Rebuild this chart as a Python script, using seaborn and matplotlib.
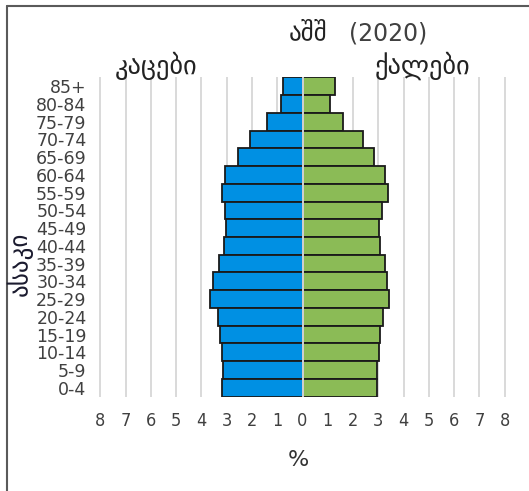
import numpy as np
import pandas as pd
import matplotlib
matplotlib.use("Agg")
import matplotlib.pyplot as plt
from matplotlib.lines import Line2D
import seaborn as sns

# ---- data (percent of total population) ----
ages = ["0-4", "5-9", "10-14", "15-19", "20-24", "25-29", "30-34", "35-39",
        "40-44", "45-49", "50-54", "55-59", "60-64", "65-69", "70-74",
        "75-79", "80-84", "85+"]
men = [3.20, 3.13, 3.20, 3.25, 3.35, 3.65, 3.54, 3.30,
       3.09, 3.01, 3.06, 3.20, 3.06, 2.57, 2.08, 1.40, 0.86, 0.76]
women = [2.96, 2.94, 3.01, 3.08, 3.20, 3.43, 3.35, 3.26,
         3.06, 3.02, 3.14, 3.37, 3.26, 2.84, 2.38, 1.62, 1.10, 1.28]
xticks = list(range(-8, 9))
xticklabels = [str(abs(t)) for t in xticks]

title_a = "აშშ"
title_b = "(2020)"
left_lbl = "კაცები"
right_lbl = "ქალები"
ylabel = "ასაკი"
xlabel = "%"

blue = "#0090E3"
green = "#8BBB56"
edge = "#1a1a1a"

sns.set_style("white")
plt.rcParams["font.family"] = ["DejaVu Sans"]

df = pd.DataFrame({"age": ages, "men": [-m for m in men], "women": women})
order = ages[::-1]

fig = plt.figure(figsize=(5.29, 4.91), dpi=100)
ax = fig.add_axes([99 / 529, 1 - 396.7 / 491, (506 - 99) / 529, (396.7 - 77.3) / 491])

sns.barplot(data=df, x="men", y="age", order=order, orient="h", color=blue,
            width=1.0, edgecolor=edge, linewidth=1.3, saturation=1, ax=ax, zorder=3)
sns.barplot(data=df, x="women", y="age", order=order, orient="h", color=green,
            width=1.0, edgecolor=edge, linewidth=1.3, saturation=1, ax=ax, zorder=3)

ax.set_xlim(-8.05, 8.05)
ax.set_ylim(17.5, -0.5)
ax.set_xticks(xticks)
ax.set_xticklabels(xticklabels)
for t in ax.get_xticklabels():
    t.set_family(["DejaVu Sans"])
    t.set_fontstretch("condensed")
    t.set_fontsize(13)
    t.set_color("#404040")
ax.tick_params(axis="x", length=0, pad=11)
ax.tick_params(axis="y", length=0, pad=9, labelsize=12.5, labelcolor="#404040")

ax.grid(axis="x", color="#d9d9d9", linewidth=1.4, zorder=0)
ax.set_axisbelow(True)
ax.axvline(0, color="#e2e2e2", linewidth=1.3, zorder=5)
for s in ax.spines.values():
    s.set_visible(False)

ax.set_xlabel("")
ax.set_ylabel("")
fig.text(298 / 529, 1 - 460 / 491, xlabel, ha="center", va="center",
         fontsize=16, color="#333333")
fig.text(20 / 529, 1 - 264 / 491, ylabel, ha="center", va="center",
         rotation=90, fontsize=18, color="#1a1a2e")
fig.text(308 / 529, 1 - 32 / 491, title_a, ha="center", va="center",
         fontsize=18, color="#222222")
fig.text(388 / 529, 1 - 34 / 491, title_b, ha="center", va="center",
         fontsize=17, color="#404040")
fig.text(156 / 529, 1 - 66 / 491, left_lbl, ha="center", va="center",
         fontsize=19, color="#222222")
fig.text(422 / 529, 1 - 66 / 491, right_lbl, ha="center", va="center",
         fontsize=19, color="#222222")

# frame lines (top and left)
fig.add_artist(Line2D([7 / 529, 1.0], [1 - 6 / 491, 1 - 6 / 491],
                      color="#5a5a5a", linewidth=1.5))
fig.add_artist(Line2D([7 / 529, 7 / 529], [0, 1 - 6 / 491],
                      color="#5a5a5a", linewidth=1.5))

fig.savefig("out.png", dpi=100)
